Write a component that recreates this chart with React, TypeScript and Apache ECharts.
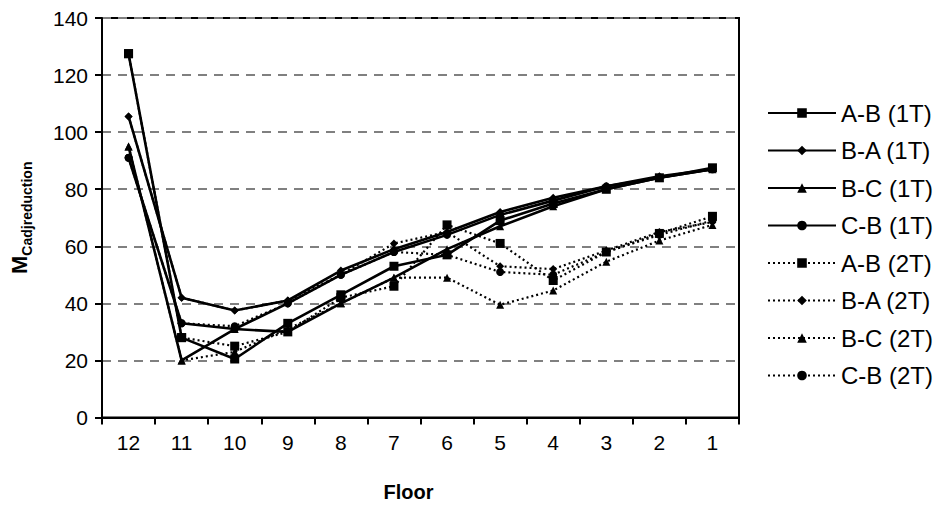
import React, { useEffect, useRef } from "react";
import * as echarts from "echarts";

const categories = ["12", "11", "10", "9", "8", "7", "6", "5", "4", "3", "2", "1"];

const abOneT = [127.5, 28, 20.5, 33, 43, 53, 57, 69, 75, 80, 84, 87.5];
const baOneT = [105.5, 42, 37.5, 41, 51.5, 59, 65, 72, 77, 81, 84.5, 87];
const bcOneT = [95, 20, 31, 30, 40, 49, 59, 67, 74, 80, 84, 87];
const cbOneT = [91, 33, 31, 40, 50, 58, 64, 71, 76, 81, 84, 87];

const abTwoT = [127.5, 28, 25, 30, 42, 46, 67.5, 61, 48, 58, 64.5, 70.5];
const baTwoT = [105.5, 42, 37.5, 41, 50, 61, 65, 53, 52, 58.5, 65, 68.5];
const bcTwoT = [95, 20, 23, 31, 40, 49, 49, 39.5, 44.5, 54.6, 62, 67.5];
const cbTwoT = [91, 33, 32, 40, 50, 58, 57, 51, 50, 58, 64, 69];

const seriesNames = [
  "A-B (1T)", "B-A (1T)", "B-C (1T)", "C-B (1T)",
  "A-B (2T)", "B-A (2T)", "B-C (2T)", "C-B (2T)",
];
const seriesData = [abOneT, baOneT, bcOneT, cbOneT, abTwoT, baTwoT, bcTwoT, cbTwoT];
const symbols = ["rect", "diamond", "triangle", "circle", "rect", "diamond", "triangle", "circle"];
const symbolSizes = [9, 8, 8, 8, 9, 8, 8, 8];

const FONT = 'Arial, "Liberation Sans", sans-serif';

export default function App() {
  const ref = useRef<HTMLDivElement>(null);
  useEffect(() => {
    if (!ref.current) return;
    const chart = echarts.init(ref.current, undefined, { renderer: "svg" });
    const series = seriesNames.map((name, i) => ({
      name,
      type: "line",
      data: seriesData[i],
      symbol: symbols[i],
      symbolSize: symbolSizes[i],
      showSymbol: true,
      itemStyle: { color: "#000" },
      lineStyle: {
        color: "#000",
        width: i < 4 ? 2.6 : 2.2,
        type: i < 4 ? "solid" : [2, 3],
      },
      z: i < 4 ? 3 : 2,
    }));
    chart.setOption({
      animation: false,
      backgroundColor: "#fff",
      textStyle: { fontFamily: FONT, color: "#000" },
      grid: {
        left: 101,
        right: 196,
        top: 18,
        bottom: 96.5,
        show: true,
        borderColor: "#000",
        borderWidth: 2,
      },
      legend: {
        orient: "vertical",
        left: 762,
        top: 96,
        itemWidth: 68,
        itemHeight: 12,
        itemGap: 13.5,
        textStyle: { fontSize: 24, color: "#000", fontFamily: FONT, lineHeight: 24 },
        data: seriesNames,
      },
      xAxis: {
        type: "category",
        data: categories,
        boundaryGap: true,
        axisLine: { lineStyle: { color: "#000", width: 2 } },
        axisTick: { show: true, alignWithLabel: false, length: 7, lineStyle: { color: "#000", width: 2 } },
        axisLabel: { fontSize: 21, color: "#000", margin: 14, fontFamily: FONT },
        splitLine: { show: false },
        name: "Floor",
        nameLocation: "middle",
        nameGap: 64,
        nameTextStyle: { fontSize: 20, fontWeight: "bold", color: "#000", fontFamily: FONT, padding: [0, 24, 0, 0] },
      },
      yAxis: {
        type: "value",
        min: 0,
        max: 140,
        interval: 20,
        axisLine: { show: true, lineStyle: { color: "#000", width: 2 } },
        axisTick: { show: true, length: 7, lineStyle: { color: "#000", width: 2 } },
        axisLabel: { fontSize: 21, color: "#000", margin: 14, fontFamily: FONT },
        splitLine: { show: true, lineStyle: { color: "#808080", width: 2, type: [9, 7] } },
        name: "{m|M}{s|Cadjreduction}",
        nameLocation: "middle",
        nameRotate: 90,
        nameGap: 72,
        nameTextStyle: {
          rich: {
            m: { fontSize: 22, fontWeight: "bold", color: "#000", fontFamily: FONT, lineHeight: 26, verticalAlign: "bottom" },
            s: { fontSize: 14, fontWeight: "bold", color: "#000", fontFamily: FONT, lineHeight: 26, verticalAlign: "bottom", padding: [0, 0, -4, 0] },
          },
        },
      },
      series,
    });
    return () => chart.dispose();
  }, []);
  return (
    <div
      ref={ref}
      style={{ position: "fixed", left: 0, top: 0, width: 935, height: 514 }}
    />
  );
}
